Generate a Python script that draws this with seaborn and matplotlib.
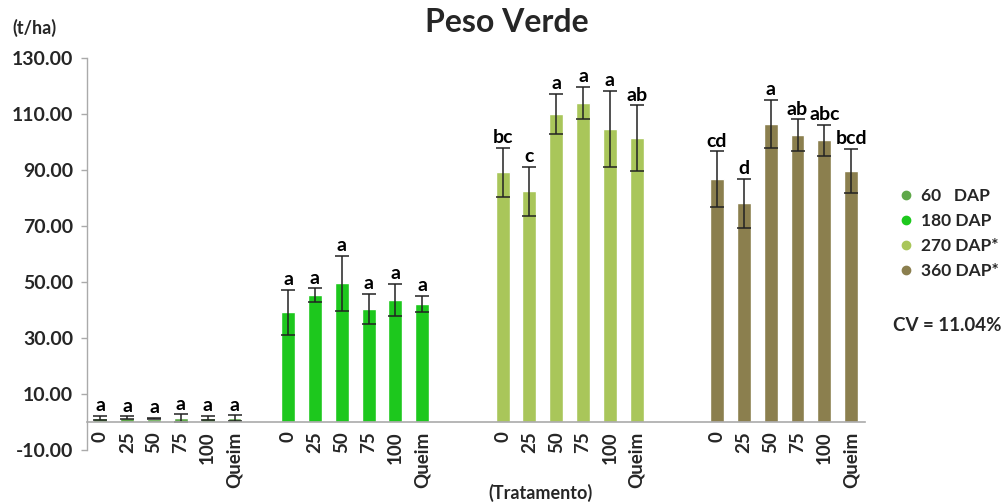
import matplotlib
matplotlib.use("Agg")
import matplotlib.pyplot as plt
from matplotlib.lines import Line2D
import seaborn as sns
import pandas as pd
import numpy as np

# Treatments (doses) and sampling dates
tratamentos = ["0", "25", "50", "75", "100", "Queim"]
epocas = ["60   DAP", "180 DAP", "270 DAP*", "360 DAP*"]

# Green weight (t/ha), standard errors and Tukey letters per date
peso_60 = [1.3, 1.4, 1.1, 1.2, 1.4, 1.3]
err_60 = [0.7, 0.5, 0.3, 1.4, 0.7, 1.0]
letras_60 = ["a", "a", "a", "a", "a", "a"]

peso_180 = [39.1, 45.2, 49.5, 40.4, 43.6, 42.1]
err_180 = [8.0, 2.5, 9.9, 5.4, 5.7, 3.0]
letras_180 = ["a", "a", "a", "a", "a", "a"]

peso_270 = [89.2, 82.4, 110.1, 114.0, 104.8, 101.5]
err_270 = [8.7, 8.8, 7.2, 5.7, 13.6, 11.7]
letras_270 = ["bc", "c", "a", "a", "a", "ab"]

peso_360 = [86.7, 78.1, 106.5, 102.6, 100.7, 89.6]
err_360 = [10.0, 8.7, 8.6, 5.6, 5.6, 7.9]
letras_360 = ["cd", "d", "a", "ab", "abc", "bcd"]

cv_texto = "CV = 11.04%"

cores = ["#5FA84A", "#1DC81D", "#A9C65A", "#8B7F4E"]
espacos = [1, 2, 2]  # empty category slots after each date group

pesos = [peso_60, peso_180, peso_270, peso_360]
erros = [err_60, err_180, err_270, err_360]
letras = [letras_60, letras_180, letras_270, letras_360]

# Build category slots (with empty slots separating date groups)
slots, rows = [], []
for g, ep in enumerate(epocas):
    for t, trat in enumerate(tratamentos):
        nome = f"{ep}|{trat}"
        slots.append(nome)
        rows.append({"slot": nome, "epoca": ep, "tratamento": trat,
                     "peso": pesos[g][t], "erro": erros[g][t], "letra": letras[g][t]})
    if g < len(espacos):
        for k in range(espacos[g]):
            slots.append(f"vazio{g}_{k}")
df = pd.DataFrame(rows)

sns.set_theme(style="white")
plt.rcParams["font.family"] = ["Lato", "DejaVu Sans"]
plt.rcParams["font.weight"] = "bold"

fig = plt.figure(figsize=(10.04, 5.03), dpi=100)
ax = fig.add_axes([0.0867, 0.1062, 0.7744, 0.7779])

sns.barplot(data=df, x="slot", y="peso", hue="epoca", order=slots,
            hue_order=epocas, palette=cores, dodge=False, width=0.52,
            errorbar=None, legend=False, ax=ax, saturation=1)

# Error bars and significance letters
for _, r in df.iterrows():
    xpos = slots.index(r["slot"])
    ax.errorbar(xpos, r["peso"], yerr=r["erro"], fmt="none", ecolor="#222222",
                elinewidth=1.1, capsize=5, capthick=1.1)
    ax.text(xpos, r["peso"] + r["erro"] + 0.6, r["letra"], ha="center",
            va="bottom", fontsize=14, fontweight="bold", color="black")

ax.set_xlim(-0.5, len(slots) - 0.5)
ax.set_ylim(-10, 130)
yt = np.arange(-10, 131, 20)
ax.set_yticks(yt)
ax.set_yticklabels([f"{v:.2f}" for v in yt])

pos_barras = [slots.index(s) for s in df["slot"]]
ax.set_xticks(pos_barras)
ax.set_xticklabels(df["tratamento"])
ax.set_xticks(np.arange(-0.5, len(slots), 1.0), minor=True)
ax.tick_params(axis="x", which="major", length=0, pad=7, labelrotation=90,
               labelsize=13.5)
ax.tick_params(axis="x", which="minor", length=5, width=1, color="#AAAAAA",
               direction="out")
ax.tick_params(axis="y", which="major", length=4, width=1, color="#AAAAAA",
               direction="out", left=True, pad=6, labelsize=14)
for lbl in ax.get_xticklabels() + ax.get_yticklabels():
    lbl.set_fontweight("bold")

for s in ["top", "right"]:
    ax.spines[s].set_visible(False)
ax.spines["bottom"].set_position(("data", 0))
ax.spines["bottom"].set_color("#AAAAAA")
ax.spines["left"].set_color("#AAAAAA")
ax.spines["bottom"].set_linewidth(1.2)
ax.spines["left"].set_linewidth(1.0)
ax.set_xlabel("")
ax.set_ylabel("")

fig.text(0.505, 0.955, "Peso Verde", ha="center", va="center",
         fontsize=23, fontweight="bold")
fig.text(0.012, 0.944, "(t/ha)", ha="left", va="center", fontsize=13,
         fontweight="bold")
fig.text(0.538, 0.020, "(Tratamento)", ha="center", va="center",
         fontsize=13, fontweight="bold")

handles = [Line2D([0], [0], marker="o", linestyle="none", markersize=6,
                  markerfacecolor=c, markeredgecolor=c) for c in cores]
fig.legend(handles, epocas, loc="upper left", bbox_to_anchor=(0.878, 0.657),
           frameon=False, handletextpad=0.35, labelspacing=0.52,
           prop={"size": 12.5, "weight": "bold"}, handlelength=1.0)
fig.text(0.889, 0.353, cv_texto, ha="left", va="center", fontsize=13.5,
         fontweight="bold")

fig.savefig("out.png", dpi=100)
